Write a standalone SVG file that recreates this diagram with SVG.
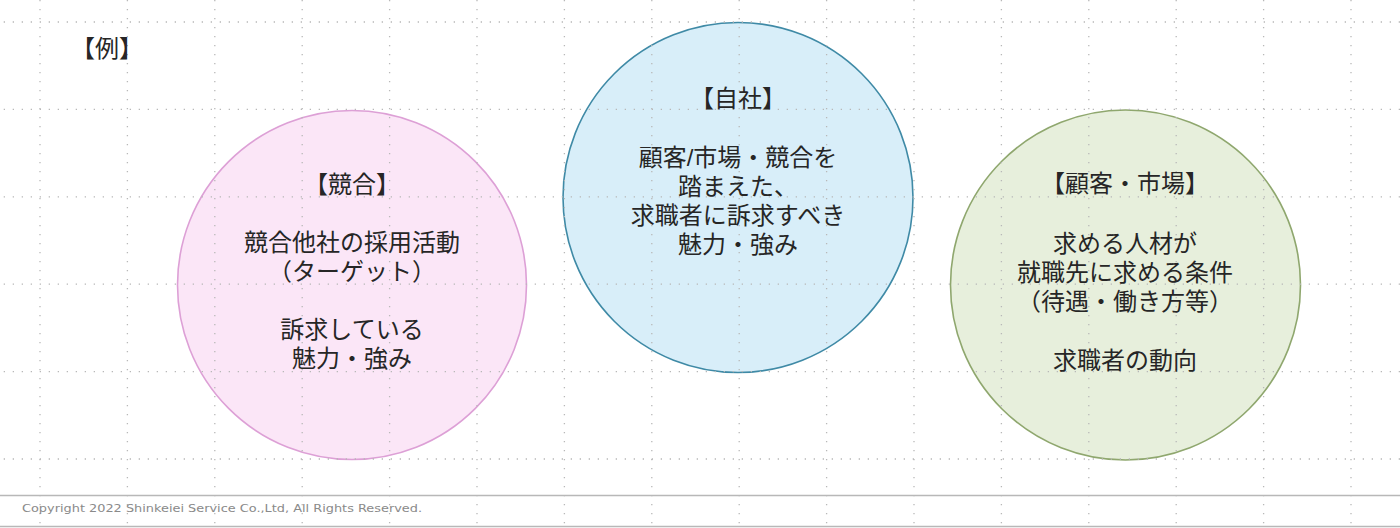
<svg xmlns="http://www.w3.org/2000/svg" width="1400" height="528" viewBox="0 0 1400 528">
<style>
.grid line{stroke:#b8b8b8;stroke-width:1.3;stroke-dasharray:1.3 7.7;fill:none}
.jp{font-family:"Liberation Sans","Noto Sans CJK JP",sans-serif;font-size:24px;fill:#262626;text-anchor:middle}
.foot{font-family:"DejaVu Sans","Liberation Sans",sans-serif;font-size:11px;fill:#8a8a8a}
.sep{stroke:#b8b8b8;stroke-width:1.5}
</style>
<rect x="0" y="0" width="1400" height="528" fill="#ffffff"/>
<g id="circles">
<g id="node-competitor">
<circle cx="352" cy="285" r="174.5" fill="#fbe6f7" stroke="#dda0d6" stroke-width="1.6"/>
</g>
<g id="node-company">
<circle cx="738" cy="197.5" r="175" fill="#d8eef9" stroke="#3f8aa6" stroke-width="1.6"/>
</g>
<g id="node-customer">
<circle cx="1125.5" cy="285" r="175" fill="#e7efdc" stroke="#8fa76e" stroke-width="1.6"/>
</g>
</g>
<g class="grid" id="grid">
<line x1="40" y1="0" x2="40" y2="528"/>
<line x1="127.4" y1="0" x2="127.4" y2="528"/>
<line x1="214.8" y1="0" x2="214.8" y2="528"/>
<line x1="302.2" y1="0" x2="302.2" y2="528"/>
<line x1="389.6" y1="0" x2="389.6" y2="528"/>
<line x1="477" y1="0" x2="477" y2="528"/>
<line x1="564.4" y1="0" x2="564.4" y2="528"/>
<line x1="651.8" y1="0" x2="651.8" y2="528"/>
<line x1="739.2" y1="0" x2="739.2" y2="528"/>
<line x1="826.6" y1="0" x2="826.6" y2="528"/>
<line x1="914" y1="0" x2="914" y2="528"/>
<line x1="1001.4" y1="0" x2="1001.4" y2="528"/>
<line x1="1088.8" y1="0" x2="1088.8" y2="528"/>
<line x1="1176.2" y1="0" x2="1176.2" y2="528"/>
<line x1="1263.6" y1="0" x2="1263.6" y2="528"/>
<line x1="1351" y1="0" x2="1351" y2="528"/>
<line x1="0" y1="22" x2="1400" y2="22" stroke-dashoffset="5.3"/>
<line x1="0" y1="109.4" x2="1400" y2="109.4" stroke-dashoffset="5.3"/>
<line x1="0" y1="196.8" x2="1400" y2="196.8" stroke-dashoffset="5.3"/>
<line x1="0" y1="284.2" x2="1400" y2="284.2" stroke-dashoffset="5.3"/>
<line x1="0" y1="371.6" x2="1400" y2="371.6" stroke-dashoffset="5.3"/>
<line x1="0" y1="459" x2="1400" y2="459" stroke-dashoffset="5.3"/>
</g>
<g id="title">
<text class="jp" x="107" y="57">【例】</text>
</g>
<g id="label-competitor">
<text class="jp" x="352" y="193">【競合】<tspan x="352" dy="58">競合他社の採用活動</tspan><tspan x="352" dy="29">（ターゲット）</tspan><tspan x="352" dy="58">訴求している</tspan><tspan x="352" dy="29">魅力・強み</tspan></text>
</g>
<g id="label-company">
<text class="jp" x="738" y="107">【自社】<tspan x="738" dy="59">顧客/市場・競合を</tspan><tspan x="738" dy="29">踏まえた、</tspan><tspan x="738" dy="29">求職者に訴求すべき</tspan><tspan x="738" dy="29">魅力・強み</tspan></text>
</g>
<g id="label-customer">
<text class="jp" x="1125" y="192">【顧客・市場】<tspan x="1125" dy="60">求める人材が</tspan><tspan x="1125" dy="29">就職先に求める条件</tspan><tspan x="1125" dy="29">（待遇・働き方等）</tspan><tspan x="1125" dy="59">求職者の動向</tspan></text>
</g>
<g id="footer">
<line class="sep" x1="0" y1="495.5" x2="1400" y2="495.5"/>
<line class="sep" x1="0" y1="526.5" x2="1400" y2="526.5"/>
<text class="foot" x="22" y="512" textLength="400" lengthAdjust="spacingAndGlyphs">Copyright 2022 Shinkeiei Service Co.,Ltd, All Rights Reserved.</text>
</g>
</svg>
